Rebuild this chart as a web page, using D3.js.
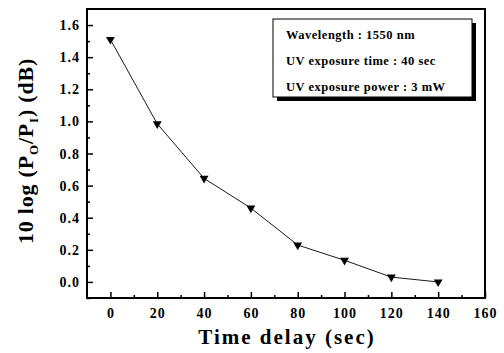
<!DOCTYPE html>
<html>
<head>
<meta charset="utf-8">
<script src="https://cdn.jsdelivr.net/npm/d3@7.9.0/dist/d3.min.js"></script>
<style>
  body { margin: 0; background: #fff; }
  svg text { font-family: "Liberation Serif", "Times New Roman", serif; font-weight: bold; fill: #000; }
</style>
</head>
<body>
<div id="chart"></div>
<script>
const delays = [0, 20, 40, 60, 80, 100, 120, 140];
const lossDb = [1.51, 0.985, 0.645, 0.46, 0.23, 0.135, 0.03, 0.0];
const xTicks = [0, 20, 40, 60, 80, 100, 120, 140, 160];
const yTicks = [0.0, 0.2, 0.4, 0.6, 0.8, 1.0, 1.2, 1.4, 1.6];
const legendLines = ['Wavelength : 1550 nm', 'UV exposure time : 40 sec', 'UV exposure power : 3 mW'];

const width = 504;
const height = 353;
const margin = { top: 9, right: 19, bottom: 55, left: 87 };

const svg = d3.select('#chart')
  .append('svg')
  .attr('width', width)
  .attr('height', height);

const x = d3.scaleLinear()
  .domain([-10, 160])
  .range([margin.left, width - margin.right]);

const y = d3.scaleLinear()
  .domain([-0.1, 1.7])
  .range([height - margin.bottom, margin.top]);

// minor ticks, pointing inward
svg.append('g')
  .attr('transform', `translate(0,${y(-0.1)})`)
  .call(d3.axisTop(x).tickValues(d3.range(10, 160, 20)).tickSize(3).tickFormat(''))
  .call(g => g.select('.domain').remove());

svg.append('g')
  .attr('transform', `translate(${x(-10)},0)`)
  .call(d3.axisRight(y).tickValues(d3.range(-0.1, 1.65, 0.2)).tickSize(3).tickFormat(''))
  .call(g => g.select('.domain').remove());

// major ticks
svg.append('g')
  .attr('transform', `translate(0,${y(-0.1)})`)
  .call(d3.axisTop(x).tickValues(xTicks).tickSize(6).tickFormat(''))
  .call(g => g.select('.domain').remove());

svg.append('g')
  .attr('transform', `translate(${x(-10)},0)`)
  .call(d3.axisRight(y).tickValues(yTicks).tickSize(6).tickFormat(''))
  .call(g => g.select('.domain').remove());

svg.selectAll('.tick line').attr('stroke', '#000').attr('stroke-width', 1.5);

// tick labels
svg.append('g')
  .selectAll('text')
  .data(xTicks)
  .join('text')
  .attr('x', d => x(d) + 0.5)
  .attr('y', 318)
  .attr('text-anchor', 'middle')
  .attr('font-size', 14)
  .attr('letter-spacing', 1)
  .text(d => d);

svg.append('g')
  .selectAll('text')
  .data(yTicks)
  .join('text')
  .attr('x', 80)
  .attr('y', d => y(d) + 5)
  .attr('text-anchor', 'end')
  .attr('font-size', 14)
  .attr('letter-spacing', 1)
  .text(d => d.toFixed(1));

// frame
svg.append('rect')
  .attr('x', x(-10))
  .attr('y', y(1.7))
  .attr('width', x(160) - x(-10))
  .attr('height', y(-0.1) - y(1.7))
  .attr('fill', 'none')
  .attr('stroke', '#000')
  .attr('stroke-width', 2);

// data line
const line = d3.line()
  .x((d, i) => x(delays[i]))
  .y(d => y(d));

svg.append('path')
  .datum(lossDb)
  .attr('d', line)
  .attr('fill', 'none')
  .attr('stroke', '#000')
  .attr('stroke-width', 0.9);

const tri = d3.symbol().type(d3.symbolTriangle).size(34);
svg.append('g')
  .selectAll('path')
  .data(lossDb)
  .join('path')
  .attr('d', tri)
  .attr('transform', (d, i) => `translate(${x(delays[i])},${y(d)}) rotate(180)`)
  .attr('fill', '#000');

// legend box
const lg = svg.append('g');
lg.append('rect')
  .attr('x', 277).attr('y', 23).attr('width', 199).attr('height', 78)
  .attr('fill', '#000');
lg.append('rect')
  .attr('x', 273).attr('y', 19).attr('width', 199).attr('height', 78)
  .attr('fill', '#fff').attr('stroke', '#000').attr('stroke-width', 1);
lg.selectAll('text')
  .data(legendLines)
  .join('text')
  .attr('x', 286)
  .attr('y', (d, i) => 39 + i * 26)
  .attr('font-size', 12.5)
  .attr('letter-spacing', 0.5)
  .text(d => d);

// axis titles
svg.append('text')
  .attr('x', 287)
  .attr('y', 344)
  .attr('text-anchor', 'middle')
  .attr('font-size', 21)
  .attr('letter-spacing', 2)
  .text('Time delay (sec)');

const yl = svg.append('text')
  .attr('transform', 'translate(33,151) rotate(-90)')
  .attr('text-anchor', 'middle')
  .attr('font-size', 22)
  .attr('letter-spacing', 0.8);
yl.append('tspan').text('10 log (P');
yl.append('tspan').attr('font-size', 13).attr('dy', 5).text('O');
yl.append('tspan').attr('dy', -5).text('/P');
yl.append('tspan').attr('font-size', 13).attr('dy', 5).text('I');
yl.append('tspan').attr('dy', -5).text(') (dB)');
</script>
</body>
</html>
